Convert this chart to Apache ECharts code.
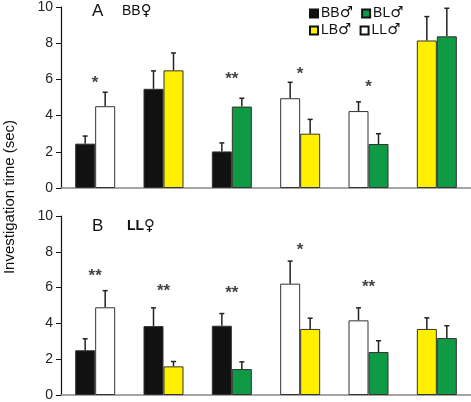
<!DOCTYPE html>
<html><head><meta charset="utf-8">
<script src="https://cdn.jsdelivr.net/npm/echarts@6/dist/echarts.min.js"></script>
<style>html,body{margin:0;padding:0;background:#fff}#c{width:471px;height:402px}</style>
</head><body><div id="c"></div>
<script>
var pairs = ['BB-LL','BB-LB','BB-BL','LL-LB','LL-BL','LB-BL'];
var leftGroup  = ['BB','BB','BB','LL','LL','LB'];
var rightGroup = ['LL','LB','BL','LB','BL','BL'];
var yTicks = [0,2,4,6,8,10];

// Panel A (BB female)
var aLeft  = [2.45, 5.48, 2.02, 4.96, 4.25, 8.15];
var aLeftSem  = [0.42, 0.99, 0.47, 0.88, 0.51, 1.32];
var aRight = [4.52, 6.50, 4.50, 3.00, 2.43, 8.38];
var aRightSem = [0.77, 0.96, 0.46, 0.79, 0.57, 1.55];
var aStars = ['*', '', '**', '*', '*', ''];
var aStarY = [6.0, 0, 6.2, 6.5, 5.8, 0];

// Panel B (LL female)
var bLeft  = [2.50, 3.85, 3.87, 6.22, 4.17, 3.69];
var bLeftSem  = [0.64, 1.02, 0.68, 1.26, 0.70, 0.62];
var bRight = [4.90, 1.60, 1.45, 3.69, 2.40, 3.18];
var bRightSem = [0.93, 0.27, 0.40, 0.60, 0.63, 0.69];
var bStars = ['**', '**', '**', '*', '**', ''];
var bStarY = [6.88, 6.02, 5.9, 8.3, 6.24, 0];

var groupColor = {BB:'#111111', BL:'#0f9a46', LB:'#fff000', LL:'#ffffff'};
var FONT = "'Liberation Sans', Arial, sans-serif";
var SYM = "'DejaVu Sans', sans-serif";

var chart = echarts.init(document.getElementById('c'), null, {renderer:'canvas'});

function barData(vals, groups){
  return vals.map(function(v,i){
    return {value:v, itemStyle:{color:groupColor[groups[i]], borderColor:'#333', borderWidth:1}};
  });
}
function errData(vals, sems, side){
  return vals.map(function(v,i){ return [i, v, v+sems[i], side]; });
}
function errSeries(data, gi){
  return {
    type:'custom', xAxisIndex:gi, yAxisIndex:gi, z:1, silent:true,
    renderItem:function(params, api){
      var idx = api.value(0), top = api.value(2), side = api.value(3);
      var p0 = api.coord([idx, api.value(1)]);
      var p1 = api.coord([idx, top]);
      var x = p0[0] + side*10;
      return {type:'group', children:[
        {type:'line', shape:{x1:x, y1:p0[1], x2:x, y2:p1[1]}, style:{stroke:'#222', lineWidth:1.5}},
        {type:'line', shape:{x1:x-2.5, y1:p1[1], x2:x+2.5, y2:p1[1]}, style:{stroke:'#222', lineWidth:1.5}}
      ]};
    },
    data:data
  };
}
function starSeries(stars, ys, gi){
  var d = [];
  stars.forEach(function(s,i){ if(s) d.push({value:[i, ys[i]], label:{formatter:s}}); });
  return {
    type:'scatter', xAxisIndex:gi, yAxisIndex:gi, symbolSize:0, silent:true,
    label:{show:true, position:'inside', color:'#111', fontSize:17, fontWeight:'bold', fontFamily:FONT, offset:[0,4]},
    data:d
  };
}

var grids = [
  {left:61, right:0, top:6, height:182},
  {left:61, right:0, top:216, height:182}
];
var xAxes = [0,1].map(function(g){
  return {type:'category', gridIndex:g, data:pairs,
    axisLine:{lineStyle:{color:'#888', width:1.5}}, axisTick:{show:false}, axisLabel:{show:false}};
});
var yAxes = [0,1].map(function(g){
  return {type:'value', gridIndex:g, min:yTicks[0], max:yTicks[yTicks.length-1], interval:2,
    axisLine:{show:true, lineStyle:{color:'#111', width:1.2}},
    axisTick:{show:true, length:5, lineStyle:{color:'#111'}},
    axisLabel:{color:'#222', fontSize:14, fontFamily:FONT, margin:8},
    splitLine:{show:false}};
});

var series = [
  {type:'bar', xAxisIndex:0, yAxisIndex:0, barWidth:20, barGap:'0%', data:barData(aLeft, leftGroup)},
  {type:'bar', xAxisIndex:0, yAxisIndex:0, barWidth:20, barGap:'0%', data:barData(aRight, rightGroup)},
  errSeries(errData(aLeft, aLeftSem, -1), 0),
  errSeries(errData(aRight, aRightSem, 1), 0),
  starSeries(aStars, aStarY, 0),
  {type:'bar', xAxisIndex:1, yAxisIndex:1, barWidth:20, barGap:'0%', data:barData(bLeft, leftGroup)},
  {type:'bar', xAxisIndex:1, yAxisIndex:1, barWidth:20, barGap:'0%', data:barData(bRight, rightGroup)},
  errSeries(errData(bLeft, bLeftSem, -1), 1),
  errSeries(errData(bRight, bRightSem, 1), 1),
  starSeries(bStars, bStarY, 1)
];
// legend-only series
var legendNames = {BB:'BB♂', BL:'BL♂', LB:'LB♂', LL:'LL♂'};
Object.keys(legendNames).forEach(function(k){
  series.push({type:'bar', name:legendNames[k], xAxisIndex:0, yAxisIndex:0, data:[],
    itemStyle:{color:groupColor[k], borderColor:'#111', borderWidth:1.5}});
});

var legendCommon = {orient:'horizontal', itemWidth:8, itemHeight:8, itemGap:8, selectedMode:false,
  icon:'rect', padding:0,
  formatter:function(n){ return '{t|' + n.slice(0, n.length-1) + '}{s|' + n.slice(-1) + '}'; },
  textStyle:{fontSize:14, fontFamily:FONT, color:'#111', padding:[0,0,0,-2],
    rich:{t:{fontSize:14, fontFamily:FONT, color:'#111'}, s:{fontSize:15, fontFamily:SYM, color:'#111'}}}};

chart.setOption({
  animation:false,
  backgroundColor:'#fff',
  grid:grids, xAxis:xAxes, yAxis:yAxes, series:series,
  legend:[
    Object.assign({left:309, top:6, data:['BB♂','BL♂']}, legendCommon),
    Object.assign({left:309, top:23, data:['LB♂','LL♂']}, legendCommon)
  ],
  graphic:[
    {type:'text', left:92, top:3, style:{text:'A', fontSize:17, fontFamily:FONT, fill:'#111'}},
    {type:'text', left:122, top:4, style:{text:'{t|BB}{s|♀}', rich:{t:{fontSize:14, fontFamily:FONT, fill:'#111'}, s:{fontSize:15, fontFamily:SYM, fill:'#111'}}}},
    {type:'text', left:92, top:218, style:{text:'B', fontSize:17, fontFamily:FONT, fill:'#111'}},
    {type:'text', left:127, top:219, style:{text:'{t|LL}{s|♀}', rich:{t:{fontSize:14, fontWeight:'bold', fontFamily:FONT, fill:'#111'}, s:{fontSize:15, fontFamily:SYM, fill:'#111'}}}},
    {type:'text', x:10, y:197, rotation:Math.PI/2,
      style:{text:'Investigation time (sec)', fontSize:15, fontFamily:FONT, fill:'#111', align:'center', verticalAlign:'middle'}}
  ]
});
</script></body></html>
